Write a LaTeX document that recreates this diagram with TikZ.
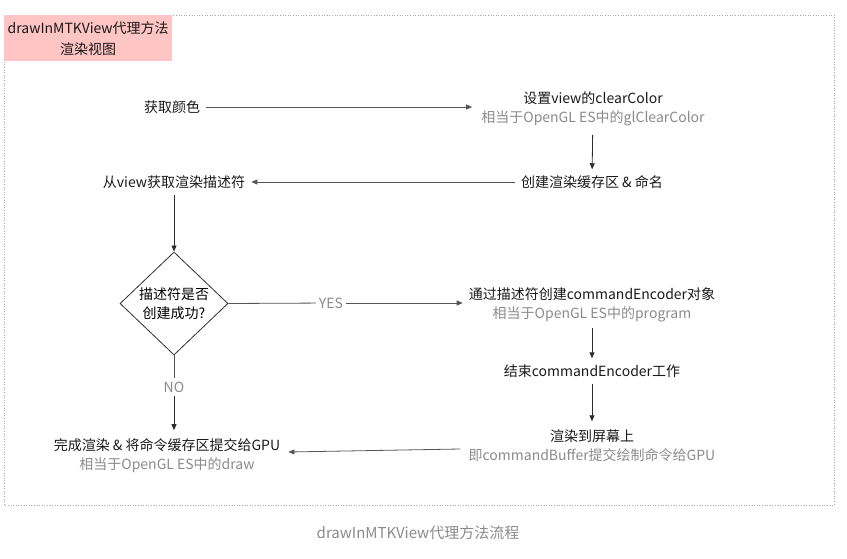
\documentclass[tikz,border=0pt]{standalone}
\usepackage{fontspec}
\setmainfont{Noto Sans CJK SC}
\usetikzlibrary{shapes.geometric,arrows.meta}
\definecolor{pinkbg}{HTML}{FFC4C4}
\definecolor{subgray}{HTML}{8A8A8A}
\definecolor{framegray}{HTML}{A8A8A8}
\definecolor{linecol}{HTML}{2E2E2E}
\definecolor{hlinecol}{HTML}{555555}
\begin{document}
\begin{tikzpicture}[x=1pt,y=-1pt,
  txt/.style={font=\fontsize{14}{19}\selectfont, text=black!90, align=center, inner sep=6pt},
  arr/.style={draw=linecol, line width=0.8pt, -{Triangle[length=6pt,width=5pt]}},
  harr/.style={draw=hlinecol, line width=0.8pt, -{Triangle[length=6pt,width=5pt]}},
  ln/.style={draw=hlinecol, line width=0.8pt},
  decide/.style={diamond, draw=linecol, line width=0.8pt, minimum width=108pt, minimum height=103pt, inner sep=0pt, align=center, font=\fontsize{14}{19}\selectfont},
]
\useasboundingbox (0,0) rectangle (847,559);
\draw[framegray, dotted, line width=0.6pt] (4,15) rectangle (834,505);
\node[fill=pinkbg, minimum width=168pt, minimum height=46pt, txt, inner sep=2pt, anchor=north west, font=\fontsize{14}{21}\selectfont] (title) at (4,15) {drawInMTKView代理方法\\渲染视图};

\node[txt] (color) at (172,107) {获取颜色};
\node[txt, inner sep=9pt] (setc) at (593,108.5) {设置view的clearColor\\{\color{subgray}相当于OpenGL ES中的glClearColor}};
\node[txt] (buf) at (592,182) {创建渲染缓存区 \& 命名};
\node[txt] (desc) at (174,182) {从view获取渲染描述符};
\node[decide] (ok) at (174,303.5) {描述符是否\\创建成功?};
\node[txt, text=subgray, inner sep=3pt] (yes) at (331,303) {YES};
\node[txt, inner sep=6pt] (enc) at (592,304.5) {通过描述符创建commandEncoder对象\\{\color{subgray}相当于OpenGL ES中的program}};
\node[txt] (endenc) at (592,371) {结束commandEncoder工作};
\node[txt, inner sep=8pt] (render) at (592,445.5) {渲染到屏幕上\\{\color{subgray}即commandBuffer提交绘制命令给GPU}};
\node[txt, text=subgray, inner sep=3pt] (no) at (174,387) {NO};
\node[txt, inner sep=8pt] (done) at (167,455.5) {完成渲染 \& 将命令缓存区提交给GPU\\{\color{subgray}相当于OpenGL ES中的draw}};
\node[font=\fontsize{15}{18}\selectfont, text=subgray] (cap) at (418,533) {drawInMTKView代理方法流程};

\draw[harr] (color) -- (setc.west |- color);
\draw[arr] (setc) -- (buf);
\draw[harr] (buf) -- (desc);
\draw[arr] (desc) -- (ok.north);
\draw[ln] (ok.east) -- (yes);
\draw[harr] (yes) -- (enc.west |- yes);
\draw[arr] (enc) -- (endenc);
\draw[arr] (endenc) -- (render);
\draw[harr] ([yshift=-3.5pt]render.west) -- ([yshift=3.5pt]done.east);
\draw[ln] (ok.south) -- (no);
\draw[arr] (no) -- (no |- done.north);
\end{tikzpicture}
\end{document}
